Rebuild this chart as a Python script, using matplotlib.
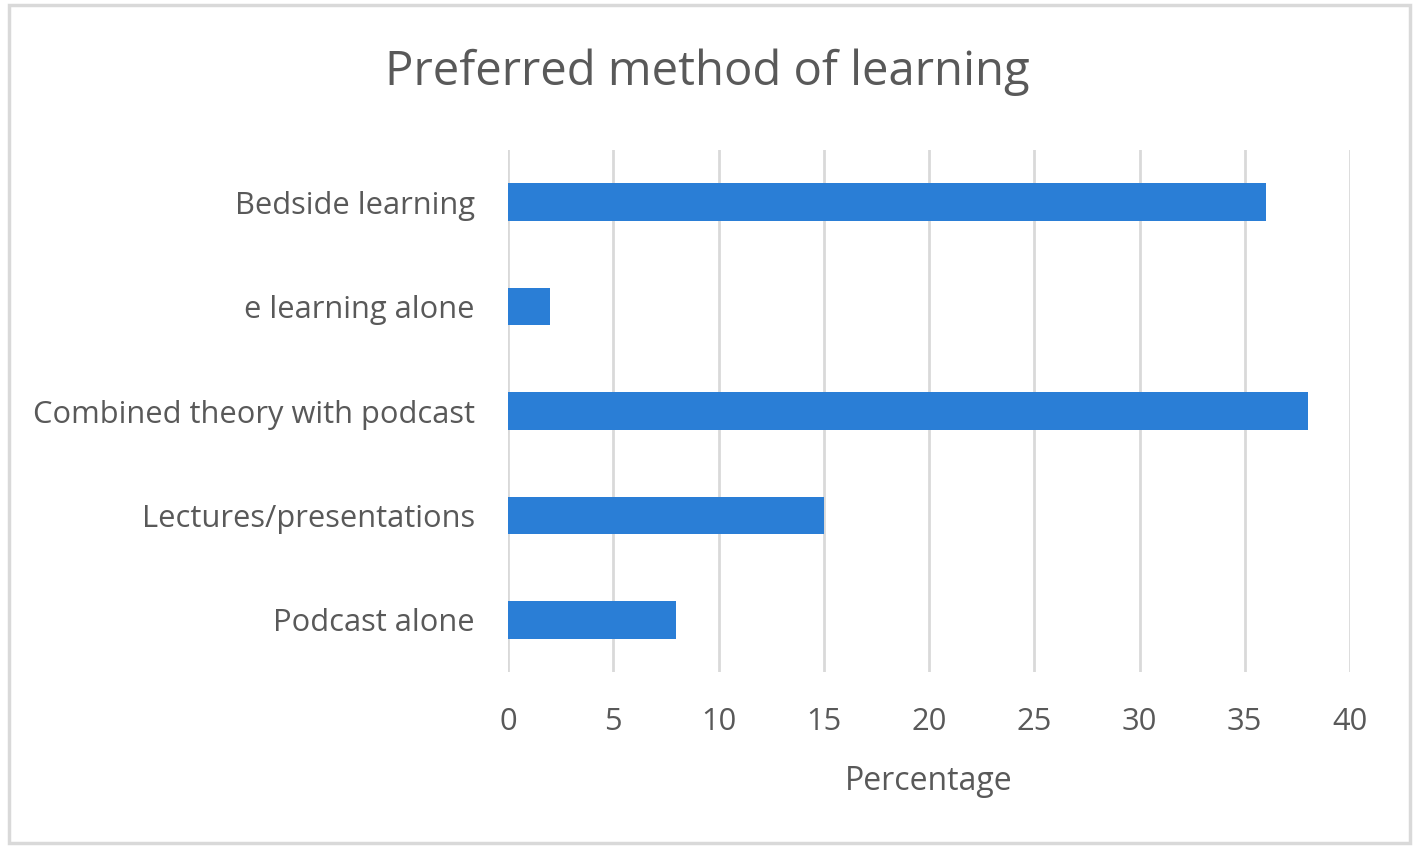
import matplotlib.pyplot as plt
from matplotlib.patches import Rectangle

categories = ["Podcast alone", "Lectures/presentations", "Combined theory with podcast",
              "e learning alone", "Bedside learning"]
values = [8, 15, 38, 2, 36]
xticks = [0, 5, 10, 15, 20, 25, 30, 35, 40]

plt.rcParams['font.family'] = ['Open Sans', 'DejaVu Sans']
text_color = '#595959'
grid_color = '#d9d9d9'

fig = plt.figure(figsize=(14.14, 8.46), dpi=100)
# outer chart frame
fig.patches.append(Rectangle((9 / 1414, 3 / 846), 1401 / 1414, 838 / 846,
                             transform=fig.transFigure, fill=False,
                             edgecolor=grid_color, linewidth=2.5))

ax = fig.add_axes([508 / 1414, 1 - 672 / 846, 842 / 1414, 522 / 846])
ax.barh(range(len(categories)), values, height=0.36, color='#2a7ed6', zorder=3)

ax.set_xlim(0, 40)
ax.set_ylim(-0.5, len(categories) - 0.5)
ax.set_xticks(xticks)
ax.set_yticks(range(len(categories)))
ax.set_yticklabels(categories)
ax.grid(axis='x', color=grid_color, linewidth=2, zorder=0)
ax.tick_params(length=0, labelsize=22.2, labelcolor=text_color)
ax.tick_params(axis='y', pad=24)
ax.tick_params(axis='x', pad=25)
for s in ax.spines.values():
    s.set_visible(False)

ax.set_xlabel("Percentage", fontsize=23, color=text_color, labelpad=20)
fig.text(0.5, 1 - 72 / 846, "Preferred method of learning", ha='center', va='center',
         fontsize=34, color=text_color)

fig.savefig("out.png", dpi=100)
